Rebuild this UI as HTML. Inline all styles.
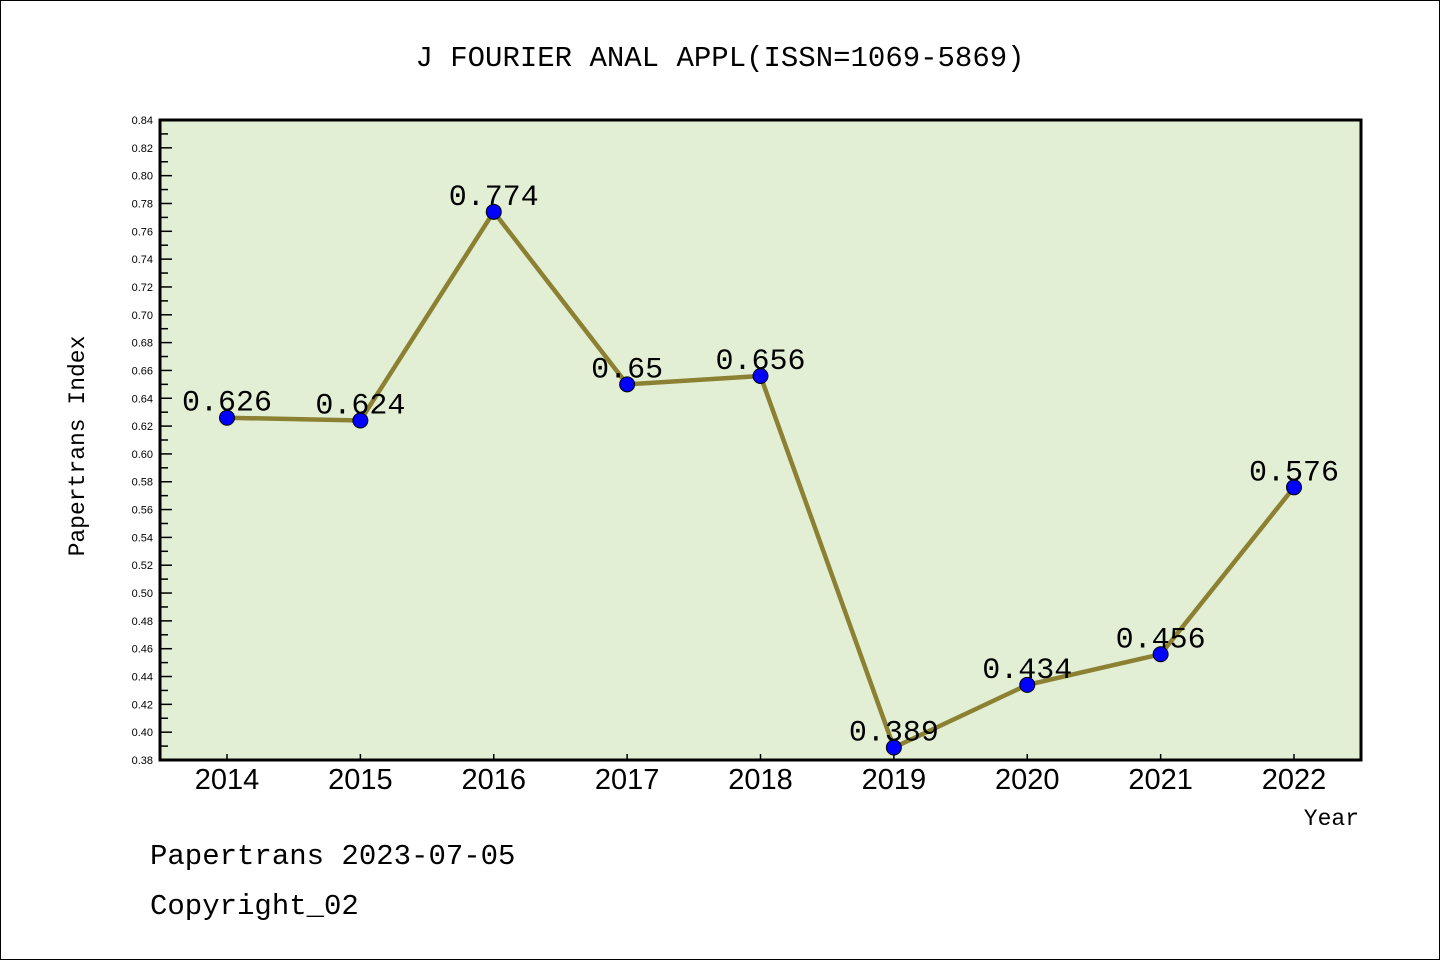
<!DOCTYPE html>
<html><head><meta charset="utf-8"><style>
html,body{margin:0;padding:0;background:#fff;}
svg{display:block;}
</style></head><body>
<svg id="chart" width="1440" height="960" xmlns="http://www.w3.org/2000/svg">
<rect x="0.5" y="0.5" width="1439" height="959" fill="#fff" stroke="#000" stroke-width="1"/>
<text x="720" y="66" text-anchor="middle" font-family="Liberation Mono, monospace" font-size="29">J FOURIER ANAL APPL(ISSN=1069-5869)</text>
<rect x="160" y="120" width="1201" height="640" fill="#e2efd5"/>
<g id="yticks"></g>
<g id="xticks"></g>
<g id="series"></g>
<rect x="160" y="120" width="1201" height="640" fill="none" stroke="#000" stroke-width="3"/>
<text transform="translate(84,446) rotate(-90)" text-anchor="middle" font-family="Liberation Mono, monospace" font-size="23">Papertrans Index</text>
<text x="1359" y="825" text-anchor="end" font-family="Liberation Mono, monospace" font-size="23">Year</text>
<text x="150" y="864" font-family="Liberation Mono, monospace" font-size="29">Papertrans 2023-07-05</text>
<text x="150" y="914" font-family="Liberation Mono, monospace" font-size="29">Copyright_02</text>
</svg>
<script>
const years = ["2014","2015","2016","2017","2018","2019","2020","2021","2022"];
const values = [0.626,0.624,0.774,0.65,0.656,0.389,0.434,0.456,0.576];
const valueLabels = ["0.626","0.624","0.774","0.65","0.656","0.389","0.434","0.456","0.576"];
const yMin = 0.38, yMax = 0.84, yStep = 0.02;
const NS = "http://www.w3.org/2000/svg";
const L=160,R=1361,T=120,B=760;
const xStart=227,xEnd=1294;
function xs(i){return xStart+(xEnd-xStart)*i/(years.length-1);}
function ys(v){return B-(v-yMin)/(yMax-yMin)*(B-T);}
function mk(tag,attrs,parent){const e=document.createElementNS(NS,tag);for(const k in attrs)e.setAttribute(k,attrs[k]);parent.appendChild(e);return e;}
const yt=document.getElementById('yticks');
const n=Math.round((yMax-yMin)/yStep);
for(let i=0;i<=n;i++){
  const v=yMin+i*yStep, y=ys(v);
  const t=mk('line',{x1:L,x2:L+12,y1:y,y2:y,stroke:'#000','stroke-width':1.5},yt);
  
  
  if(i<n){const ym=ys(v+yStep/2);const m=mk('line',{x1:L,x2:L+8,y1:ym,y2:ym,stroke:'#000','stroke-width':1.5},yt);
    
    }
  const lb=mk('text',{x:153,y:y+4,'text-anchor':'end','font-family':'Liberation Sans, sans-serif','font-size':11},yt);
  
  
  lb.textContent=v.toFixed(2);
}
const xt=document.getElementById('xticks');
years.forEach((yr,i)=>{
  const x=xs(i);
  const t=mk('line',{x1:x,x2:x,y1:B,y2:B-6,stroke:'#000','stroke-width':1.5},xt);
  
  
  const lb=mk('text',{x:x,y:789,'text-anchor':'middle','font-family':'Liberation Sans, sans-serif','font-size':29},xt);
  
  
  lb.textContent=yr;
});
const sg=document.getElementById('series');
const pl=mk('polyline',{points:values.map((v,i)=>xs(i)+','+ys(v)).join(' '),fill:'none',stroke:'#8c8032','stroke-width':4.5},sg);


values.forEach((v,i)=>{
  const c=mk('circle',{cx:xs(i),cy:ys(v),r:7.5,fill:'#0000ff',stroke:'#000','stroke-width':1},sg);
  
  
  const lb=mk('text',{x:xs(i),y:ys(v)-7,'text-anchor':'middle','font-family':'Liberation Mono, monospace','font-size':30},sg);
  
  
  lb.textContent=valueLabels[i];
});
</script>
</body></html>
